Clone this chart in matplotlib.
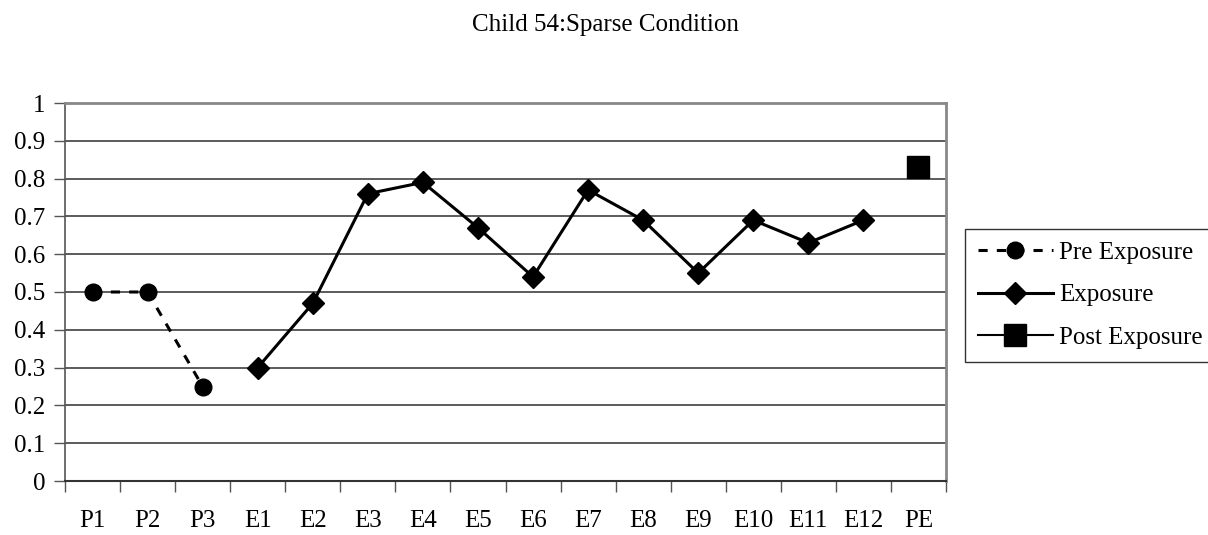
import matplotlib
matplotlib.use("Agg")
import matplotlib.pyplot as plt
from matplotlib.lines import Line2D
import numpy as np

categories = ["P1", "P2", "P3", "E1", "E2", "E3", "E4", "E5", "E6", "E7", "E8",
              "E9", "E10", "E11", "E12", "PE"]
pre_values = [0.50, 0.50, 0.25]
exposure_values = [0.30, 0.47, 0.76, 0.79, 0.67, 0.54, 0.77, 0.69, 0.55, 0.69, 0.63, 0.69]
post_values = [0.83]
yticks = [0, 0.1, 0.2, 0.3, 0.4, 0.5, 0.6, 0.7, 0.8, 0.9, 1]
ytick_labels = ["0", "0.1", "0.2", "0.3", "0.4", "0.5", "0.6", "0.7", "0.8", "0.9", "1"]
title = "Child 54:Sparse Condition"
series_names = ["Pre Exposure", "Exposure", "Post Exposure"]

plt.rcParams['font.family'] = ['Liberation Serif', 'DejaVu Serif']
FS = 18

fig = plt.figure(figsize=(12.08, 5.35), dpi=100)
ax = fig.add_axes([65/1208, 54/535, (946-65)/1208, (481-103)/535])

n = len(categories)
x_all = np.arange(n) + 0.5
x_pre = x_all[:len(pre_values)]
x_exp = x_all[len(pre_values):len(pre_values)+len(exposure_values)]
x_post = x_all[len(pre_values)+len(exposure_values):]

ax.plot(x_pre, pre_values, color='black', lw=2.2, linestyle=(0, (3, 3)),
        marker='o', markersize=12, zorder=3, clip_on=False)
ax.plot(x_exp, exposure_values, color='black', lw=2.2, marker='D',
        markersize=11, zorder=3, clip_on=False)
ax.plot(x_post, post_values, color='black', lw=1.5, marker='s',
        markersize=16, linestyle='none', zorder=3, clip_on=False)

ax.set_xlim(0, n)
ax.set_ylim(0, 1)
ax.set_yticks(yticks)
ax.set_yticklabels(ytick_labels, fontsize=FS)
ax.yaxis.grid(True, color='#404040', lw=1.2)
ax.set_axisbelow(True)
ax.tick_params(axis='y', length=8, width=1, color='#555555', pad=6)

ax.set_xticks(x_all)
ax.set_xticklabels(categories, fontsize=FS)
ax.set_xticks(np.arange(n + 1), minor=True)
ax.tick_params(axis='x', which='major', length=0, pad=21)
ax.tick_params(axis='x', which='minor', length=8, width=1, color='#555555')

for side in ['top', 'right']:
    ax.spines[side].set_color('#888888')
    ax.spines[side].set_linewidth(2)
ax.spines['left'].set_color('#555555')
ax.spines['left'].set_linewidth(1.2)
ax.spines['bottom'].set_color('#333333')
ax.spines['bottom'].set_linewidth(1.5)

fig.text(605/1208, 1 - 25/535, title, fontsize=FS, ha='center', va='center')

handles = [
    Line2D([], [], color='black', lw=2.2, linestyle=(0, (3, 3)), marker='o', markersize=12),
    Line2D([], [], color='black', lw=2.2, marker='D', markersize=11),
    Line2D([], [], color='black', lw=1.5, marker='s', markersize=16),
]
leg = fig.legend(handles, series_names, loc='upper left',
                 bbox_to_anchor=(965/1208, 1 - 229/535), fontsize=FS,
                 frameon=True, fancybox=False, edgecolor='black',
                 handlelength=3.0, handletextpad=0.25, labelspacing=0.8,
                 borderpad=0.5, borderaxespad=0)
leg.get_frame().set_linewidth(1.0)

fig.savefig("out.png", dpi=100)
